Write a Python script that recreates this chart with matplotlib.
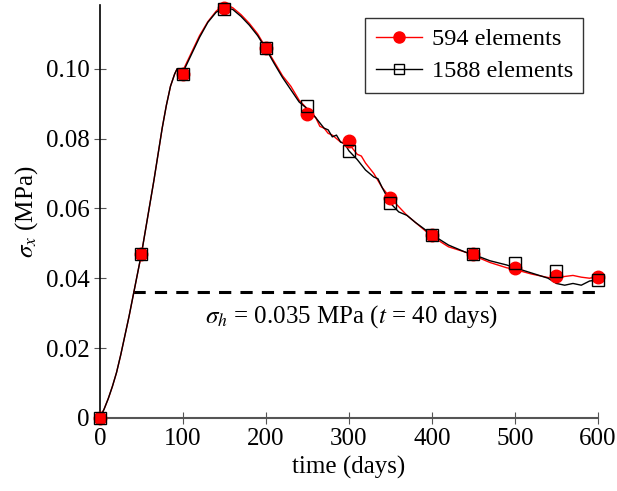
import matplotlib
matplotlib.use("Agg")
from matplotlib import pyplot as plt
from matplotlib.lines import Line2D

plt.rcParams['font.family'] = ['Liberation Serif', 'DejaVu Serif']
plt.rcParams['mathtext.fontset'] = 'stix'

# curve of the 594 element mesh
t_594 = [0, 5, 10, 15, 20, 25, 30, 35, 40, 45, 50, 55, 60, 65, 70, 75, 80, 85, 90, 93, 97,
         100, 105, 110, 120, 130, 140, 150, 160, 170,
         180, 190, 200, 210, 220, 230, 240, 250, 255, 260, 265, 270, 275, 280, 290, 300, 305,
         310, 315, 320, 330, 340, 350, 360, 370, 380, 390, 400, 420, 440, 450, 470, 490, 500,
         520, 540, 550, 560, 570, 580, 590, 600]
s_594 = [0, 0.0025, 0.0055, 0.009, 0.013, 0.018, 0.0235, 0.029, 0.035, 0.041, 0.047, 0.054,
         0.061, 0.068, 0.0755, 0.083, 0.0895, 0.095, 0.0985, 0.1, 0.1, 0.0995, 0.102,
         0.1045, 0.1095, 0.1135, 0.1165, 0.1185, 0.1175, 0.1155, 0.113, 0.110, 0.106, 0.102,
         0.098, 0.095, 0.091, 0.0885, 0.087, 0.086, 0.0835, 0.083, 0.0815, 0.081, 0.079, 0.0785,
         0.077, 0.0755, 0.075, 0.073, 0.070, 0.066, 0.063, 0.0605, 0.058, 0.056, 0.054, 0.052,
         0.049, 0.0475, 0.0465, 0.0445, 0.043, 0.0425, 0.0412, 0.0402, 0.040, 0.0405, 0.0408,
         0.0403, 0.040, 0.0405]

# curve of the 1588 element mesh
t_1588 = [0, 5, 10, 15, 20, 25, 30, 35, 40, 45, 50, 55, 60, 65, 70, 75, 80, 85, 90, 93, 97,
          100, 105, 110, 120, 130, 140, 150, 160, 170,
          180, 190, 200, 210, 220, 230, 240, 250, 255, 260, 270, 275, 280, 285, 290, 295, 300,
          310, 320, 330, 335, 340, 350, 360, 370, 380, 400, 420, 440, 450, 470, 490, 500, 520,
          540, 550, 560, 570, 580, 590, 600]
s_1588 = [0, 0.0025, 0.0055, 0.009, 0.013, 0.018, 0.0235, 0.029, 0.035, 0.041, 0.047, 0.054,
          0.061, 0.068, 0.0755, 0.083, 0.0895, 0.095, 0.0985, 0.1, 0.1, 0.099, 0.1015,
          0.104, 0.109, 0.1133, 0.1162, 0.1175, 0.117, 0.115, 0.1125, 0.1095, 0.1057, 0.1015,
          0.0975, 0.094, 0.0905, 0.0885, 0.0875, 0.086, 0.083, 0.0825, 0.0805, 0.081, 0.079,
          0.0785, 0.0765, 0.074, 0.071, 0.069, 0.0685, 0.066, 0.0615, 0.059, 0.058, 0.056,
          0.0525, 0.0495, 0.0475, 0.0468, 0.045, 0.0438, 0.043, 0.0415, 0.040, 0.0385, 0.038,
          0.0385, 0.038, 0.0392, 0.0395]

# marker values every 50 days
t_mark = [0, 50, 100, 150, 200, 250, 300, 350, 400, 450, 500, 550, 600]
m_594 = [0, 0.047, 0.0985, 0.1175, 0.106, 0.087, 0.0793, 0.063, 0.0525, 0.0468, 0.043,
         0.0405, 0.0403]
m_1588 = [0, 0.047, 0.0985, 0.117, 0.106, 0.0893, 0.0765, 0.0615, 0.0525, 0.0468, 0.0443,
          0.042, 0.0395]

sigma_h = 0.036
t_h = [40, 600]

fig = plt.figure(figsize=(6.17, 4.91), dpi=100)
ax = fig.add_axes([0.162, 0.149, 0.807, 0.841])

ax.plot(t_594, s_594, color='red', lw=1.0, zorder=3)
ax.plot(t_1588, s_1588, color='black', lw=1.0, zorder=4)
ax.plot(t_mark, m_594, 'o', color='red', ms=9, mec='red', clip_on=False, zorder=5)
ax.plot(t_mark, m_1588, 's', mfc='none', mec='black', ms=9, mew=1.0, clip_on=False, zorder=6)

ax.plot(t_h, [sigma_h, sigma_h], color='black', lw=2.2, dashes=(4, 3), zorder=2)
ax.text(303, 0.029, r'$\sigma_h$ = 0.035 MPa ($t$ = 40 days)', fontsize=18,
        ha='center', va='center')

ax.set_xlim(0, 600)
ax.set_ylim(0, 0.1183)
ax.set_xticks([0, 100, 200, 300, 400, 500, 600])
ax.set_yticks([0, 0.02, 0.04, 0.06, 0.08, 0.10])
ax.set_yticklabels(['0', '0.02', '0.04', '0.06', '0.08', '0.10'])
ax.tick_params(direction='inout', length=8, width=0.8, labelsize=18, color='#555555')
ax.spines['top'].set_visible(False)
ax.spines['right'].set_visible(False)
ax.spines['bottom'].set_color('#555555')
ax.spines['bottom'].set_linewidth(1.5)
ax.spines['left'].set_linewidth(1.2)

ax.set_xlabel('time (days)', fontsize=18, labelpad=4)
ax.set_ylabel(r'$\sigma_x$ (MPa)', fontsize=18, labelpad=4)

handles = [Line2D([], [], color='red', lw=1.0, marker='o', ms=8),
           Line2D([], [], color='black', lw=1.0, marker='s', mfc='none', ms=7)]
leg = fig.legend(handles, ['594 elements', '1588 elements'], fontsize=17.5,
                 loc='upper right', bbox_to_anchor=(583 / 617, 1 - 18 / 491),
                 borderaxespad=0, frameon=True, fancybox=False, handlelength=1.9,
                 borderpad=0.42, labelspacing=0.42, handletextpad=0.4)
leg.get_frame().set_edgecolor('black')
leg.get_frame().set_linewidth(1.0)

fig.savefig('out.png', dpi=100)
